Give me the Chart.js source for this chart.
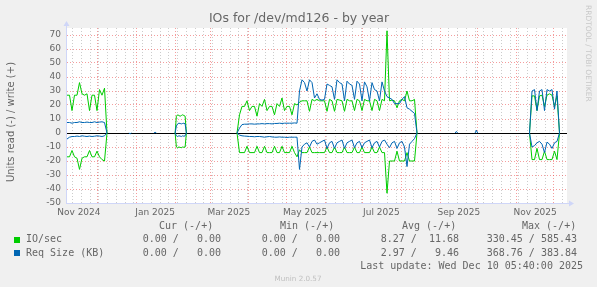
<!DOCTYPE html>
<html>
<head>
<meta charset="utf-8">
<script src="https://cdn.jsdelivr.net/npm/chart.js@4"></script>
<style>
  html, body { margin: 0; padding: 0; background: #f0f0f0; }
  #wrap { width: 597px; height: 287px; }
</style>
</head>
<body>
<div id="wrap"><canvas id="chart" width="597" height="287"></canvas></div>
<script>
// x values are days counted from 2024-11-05 (graph spans ~400 days, ends 2025-12-10)
const X_MIN = 1.5, X_MAX = 401.5;
const Y_MIN = -50, Y_MAX = 75;

const xTickLabels = ['Nov 2024', 'Jan 2025', 'Mar 2025', 'May 2025', 'Jul 2025', 'Sep 2025', 'Nov 2025'];
const xTickDays = [11, 72, 131, 192, 253, 315, 376];
const monthStartDays = [26, 57, 88, 116, 147, 177, 208, 238, 269, 300, 330, 361, 391];
const firstMonday = 6;
const yTickValues = [-50, -40, -30, -20, -10, 0, 10, 20, 30, 40, 50, 60, 70];

// where each block of samples starts, and days between samples
const segStarts = [1.5, 88, 137.5, 371.5];
const segSteps = [2, 1, 2, 2];

// IO/sec, write (+)
const ioWriteNov = [27, 27, 16, 27, 27, 36, 28, 27, 28, 16, 27, 27, 16, 31, 27, 32, 0];
const ioWriteJan = [0, 12, 13, 12.5, 12, 12.5, 13, 12.5, 12, 0];
const ioWriteSpring = [0,
  13, 19, 19, 23, 16, 19, 19, 12, 21, 19, 24, 16, 19, 19, 13, 21, 19, 25, 16, 19, 19, 13, 21, 20,
  22, 23, 23, 23, 15.5, 24, 23, 24, 23, 23, 23, 15.5, 24, 23, 15.5, 24, 23.5, 23, 15.5, 24, 23, 23,
  16, 24, 23, 16, 24, 23, 23, 16, 24, 23, 16, 24, 23, 73, 23, 23.5, 23, 18, 23, 24, 23, 30, 23, 23, 24,
  0];
const ioWriteAutumn = [0, 26.5, 26.5, 16, 26.5, 27, 19, 27, 28, 27, 19, 26.5, 0];

// IO/sec, read (-)
const ioReadNov = [-17, -17, -12.5, -17, -18, -26, -18, -17, -17, -12.5, -17, -17, -13, -17, -19, -20, 0];
const ioReadJan = [0, -10, -10.5, -10, -10.3, -10.5, -10, -10.2, -10, 0];
const ioReadSpring = [0,
  -14, -14, -14, -9.5, -14, -14, -14, -9.5, -14, -14, -9.5, -14, -14, -14, -9.5, -14, -14, -9.5, -14, -14, -14, -9.5, -14, -17,
  -12, -14, -14, -14, -10, -14, -14, -14, -14, -14, -14, -10, -14, -14, -10, -14, -14, -14, -10, -14, -14, -14,
  -10, -14, -14, -10, -14, -14, -14, -10, -14, -14, -10, -14, -14, -43, -20, -20, -20, -13, -20, -20, -20, -14, -20, -20, -20,
  0];
const ioReadAutumn = [0, -19, -19, -11, -19, -19, -13, -19, -19, -19, -13, -19, 0];

// Req Size (KB), write (+)
const reqWriteNov = [7.5, 7.5, 7, 7.5, 7.5, 8, 7.5, 7.5, 7.8, 7.5, 7.5, 8, 7.5, 7.8, 8, 7.5, 0];
const reqWriteJan = [0, 5, 6.5, 7, 6.8, 6.5, 6.8, 7, 6.5, 0];
const reqWriteSpring = [0,
  3.5, 6, 6.3, 6.3, 6.5, 6.5, 6.3, 6.5, 6.5, 6.7, 6.5, 6.7, 6.7, 6.5, 6.8, 6.8, 7, 6.8, 7, 7, 7, 7, 7.2, 7,
  30, 38, 36, 30, 38, 36, 25, 28, 24, 23.5, 24, 35, 34, 33, 24, 38, 36, 35, 23, 37, 35, 34,
  24, 37, 35, 23, 36.5, 33, 23, 36, 31, 30, 23, 36.5, 30, 26, 25, 24, 21, 21, 21, 24, 26, 18, 17, 15.5, 14,
  0];
const reqWriteAutumn = [0, 30, 31, 16, 30, 31, 16, 31, 30, 31, 17, 30, 0];

// Req Size (KB), read (-)
const reqReadNov = [-4.3, -3, -2.5, -2.5, -2.2, -2.5, -2, -2.3, -2.5, -2.2, -2.5, -2.3, -2, -2.2, -2.5, -2, 0];
const reqReadJan = [0, -2, -2.5, -2, -2.2, -2.5, -2, -2.3, -2, 0];
const reqReadSpring = [0,
  -1.5, -2, -2.2, -2.3, -2.5, -2.5, -2.7, -2.5, -2.5, -2.7, -3, -2.7, -2.5, -2.8, -3, -3, -2.8, -3, -3, -3.2, -3, -3, -3, -3,
  -26, -10, -8, -7, -10, -6, -5, -8, -7, -6, -5, -11, -7, -6, -11, -7, -6, -5, -11, -7, -6, -5,
  -10.5, -7, -6, -10.5, -7, -6, -5, -10.5, -7, -6, -10, -6, -5, -8, -10.5, -7, -6, -11, -7, -6, -10, -24, -8, -6, -4,
  0];
const reqReadAutumn = [0, -10, -9, -7, -6, -8, -14, -6.5, -8, -11, -7, -6, 0];

// single-day blips of Req Size near the zero line
const reqBlipDays = [52, 72, 313, 329];
const reqBlipValues = [-0.6, 0.5, 1.1, 2];

// legend table
const legendNames = ['IO/sec', 'Req Size (KB)'];
const legendColors = ['#00cc00', '#0066b3'];
const statHeaders = ['Cur (-/+)', 'Min (-/+)', 'Avg (-/+)', 'Max (-/+)'];
const ioReadStats = [0, 0, 8.27, 330.45];
const ioWriteStats = [0, 0, 11.68, 585.43];
const reqReadStats = [0, 0, 2.97, 368.76];
const reqWriteStats = [0, 0, 9.46, 383.84];
const lastUpdate = 'Last update: Wed Dec 10 05:40:00 2025';

const GREEN = '#00cc00', BLUE = '#0066b3';
const AXIS = '#cfd6f8', FONT = '#666666';
const MGRID = 'rgba(233,59,59,0.5)', GRID = 'rgba(143,143,143,0.45)';

const buildPoints = (segs, blips) => {
  const blocks = segs.map((vals, k) => ({ start: segStarts[k], step: segSteps[k], vals }));
  blips.forEach(([d, v]) => blocks.push({ start: d - 1, step: 1, vals: [0, v, 0] }));
  blocks.sort((a, b) => a.start - b.start);
  const pts = [];
  blocks.forEach(b => {
    b.vals.forEach((v, i) => pts.push({ x: b.start + i * b.step, y: v }));
    pts.push({ x: b.start + (b.vals.length - 1) * b.step + 0.3, y: null });
  });
  return pts;
};

const blipsUp = reqBlipDays.map((d, i) => [d, reqBlipValues[i]]).filter(b => b[1] > 0);
const blipsDown = reqBlipDays.map((d, i) => [d, reqBlipValues[i]]).filter(b => b[1] < 0);

const lineDs = (label, data, color, order) => ({
  label, data, borderColor: color, backgroundColor: color, borderWidth: 1,
  pointRadius: 0, tension: 0, spanGaps: false, order
});

const datasets = [
  lineDs('IO/sec read', buildPoints([ioReadNov, ioReadJan, ioReadSpring, ioReadAutumn], []), GREEN, 2),
  lineDs('IO/sec write', buildPoints([ioWriteNov, ioWriteJan, ioWriteSpring, ioWriteAutumn], []), GREEN, 2),
  lineDs('Req Size read', buildPoints([reqReadNov, reqReadJan, reqReadSpring, reqReadAutumn], blipsDown), BLUE, 1),
  lineDs('Req Size write', buildPoints([reqWriteNov, reqWriteJan, reqWriteSpring, reqWriteAutumn], blipsUp), BLUE, 1)
];

// x ticks: week lines, month lines, and label positions (no line)
const xTickKind = new Map();
for (let d = firstMonday; d < X_MAX; d += 7) xTickKind.set(d, 'week');
monthStartDays.forEach(d => xTickKind.set(d, 'month'));
xTickDays.forEach((d, i) => xTickKind.set(d, 'label:' + i));
const xTicks = [...xTickKind.keys()].sort((a, b) => a - b);

const yTicks = [];
for (let v = Y_MIN; v <= Y_MAX; v += 5) yTicks.push(v);

const fmt = v => v.toFixed(2).padStart(6, ' ');

const muninPlugin = {
  id: 'munin',
  beforeDraw(chart) {
    const { ctx, chartArea: a } = chart;
    ctx.save();
    ctx.fillStyle = '#f0f0f0';
    ctx.fillRect(0, 0, chart.width, chart.height);
    ctx.fillStyle = '#ffffff';
    ctx.fillRect(a.left, a.top, a.right - a.left, a.bottom - a.top);
    ctx.restore();
  },
  beforeDatasetsDraw(chart) {
    const { ctx, chartArea: a } = chart;
    const y0 = Math.round(chart.scales.y.getPixelForValue(0));
    ctx.save();
    ctx.fillStyle = '#000000';
    ctx.fillRect(a.left, y0, a.right - a.left, 1);
    ctx.fillStyle = AXIS;
    ctx.fillRect(a.left - 1, a.top - 3, 1, a.bottom - a.top + 4);
    ctx.fillRect(a.left - 1, a.bottom, a.right - a.left + 5, 1);
    ctx.beginPath();
    ctx.moveTo(a.left - 0.5, a.top - 7);
    ctx.lineTo(a.left - 3.5, a.top - 2);
    ctx.lineTo(a.left + 2.5, a.top - 2);
    ctx.closePath();
    ctx.fill();
    ctx.beginPath();
    ctx.moveTo(a.right + 7, a.bottom + 0.5);
    ctx.lineTo(a.right + 2, a.bottom - 2.5);
    ctx.lineTo(a.right + 2, a.bottom + 3.5);
    ctx.closePath();
    ctx.fill();
    ctx.restore();
  },
  afterDraw(chart) {
    const { ctx, chartArea: a } = chart;
    ctx.save();
    ctx.fillStyle = FONT;
    ctx.textBaseline = 'alphabetic';
    ctx.textAlign = 'center';
    ctx.font = '12.5px "DejaVu Sans"';
    ctx.fillText('IOs for /dev/md126 - by year', 299, 22);

    ctx.save();
    ctx.translate(11, 122);
    ctx.rotate(-Math.PI / 2);
    ctx.font = '10px "DejaVu Sans"';
    ctx.textBaseline = 'middle';
    ctx.fillText('Units read (-) / write (+)', 0, 0);
    ctx.restore();

    ctx.save();
    ctx.translate(588, 5);
    ctx.rotate(Math.PI / 2);
    ctx.font = '7.5px "DejaVu Sans"';
    ctx.fillStyle = '#c8c8c8';
    ctx.textAlign = 'left';
    ctx.textBaseline = 'middle';
    ctx.fillText('RRDTOOL / TOBI OETIKER', 0, 0);
    ctx.restore();

    // legend
    ctx.font = '10px "DejaVu Sans Mono"';
    ctx.textBaseline = 'middle';
    const headLeft = [159, 280, 402, 522];
    const colRight = [221, 340, 459, 577];
    ctx.textAlign = 'left';
    statHeaders.forEach((h, i) => ctx.fillText(h, headLeft[i], 226));
    const rows = [[ioReadStats, ioWriteStats], [reqReadStats, reqWriteStats]];
    legendNames.forEach((name, r) => {
      const yy = 239.5 + r * 13.5;
      ctx.fillStyle = legendColors[r];
      ctx.fillRect(14, Math.round(yy) - 3, 6, 6);
      ctx.fillStyle = FONT;
      ctx.textAlign = 'left';
      ctx.fillText(name, 26, yy);
      ctx.textAlign = 'right';
      rows[r][0].forEach((v, i) => ctx.fillText(fmt(v) + ' / ' + fmt(rows[r][1][i]), colRight[i], yy));
    });
    ctx.textAlign = 'right';
    ctx.fillText(lastUpdate, 583, 266.5);

    ctx.textAlign = 'center';
    ctx.font = '7.2px "DejaVu Sans"';
    ctx.fillStyle = '#c0c0c0';
    ctx.fillText('Munin 2.0.57', 298, 279.5);
    ctx.restore();
  }
};

new Chart(document.getElementById('chart').getContext('2d'), {
  type: 'line',
  data: { datasets },
  options: {
    responsive: false,
    animation: false,
    devicePixelRatio: 1,
    layout: { padding: { left: 0, right: 30, top: 28, bottom: 0 }, autoPadding: false },
    plugins: { legend: { display: false }, tooltip: { enabled: false }, title: { display: false } },
    scales: {
      x: {
        type: 'linear', min: X_MIN, max: X_MAX,
        afterBuildTicks: s => { s.ticks = xTicks.map(v => ({ value: v })); },
        afterFit: s => { s.height = 84; },
        ticks: {
          autoSkip: false, maxRotation: 0, minRotation: 0, padding: 4,
          color: FONT, font: { family: 'DejaVu Sans', size: 9 },
          callback: v => {
            const k = xTickKind.get(v);
            return k && k.startsWith('label:') ? xTickLabels[+k.slice(6)] : '';
          }
        },
        grid: {
          drawTicks: false,
          color: c => {
            const k = xTickKind.get(c.tick && c.tick.value);
            return k === 'month' ? MGRID : k === 'week' ? GRID : 'rgba(0,0,0,0)';
          }
        },
        border: { display: false, dash: [1, 2] }
      },
      y: {
        type: 'linear', min: Y_MIN, max: Y_MAX,
        afterBuildTicks: s => { s.ticks = yTicks.map(v => ({ value: v })); },
        afterFit: s => { s.width = 67; },
        ticks: {
          padding: 6, color: FONT, font: { family: 'DejaVu Sans', size: 9 },
          callback: v => yTickValues.includes(v) ? String(v) : ''
        },
        grid: {
          drawTicks: false,
          color: c => (c.tick && c.tick.value % 10 === 0) ? MGRID : GRID
        },
        border: { display: false, dash: [1, 2] }
      }
    }
  },
  plugins: [muninPlugin]
});
</script>
</body>
</html>
